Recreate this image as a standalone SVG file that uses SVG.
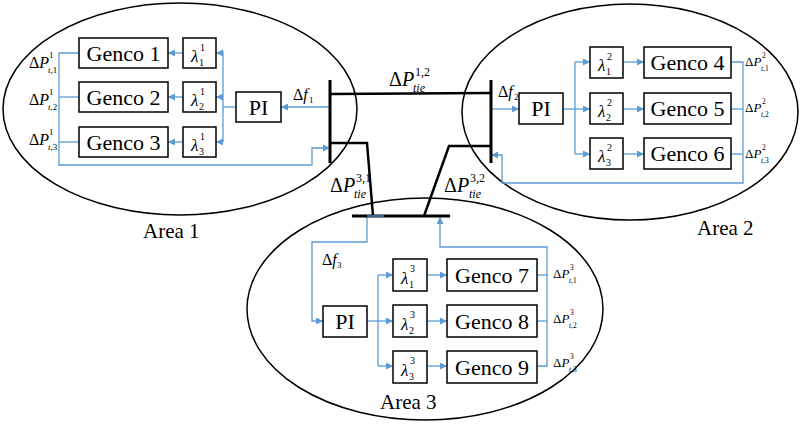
<svg xmlns="http://www.w3.org/2000/svg" width="800" height="426" viewBox="0 0 800 426" font-family="'Liberation Serif','Times New Roman',serif">
<defs>
<style>
text{font-family:"Liberation Serif","Times New Roman",serif;fill:#000}
.ell{fill:none;stroke:#000;stroke-width:1.5}
.box{fill:#fff;stroke:#000;stroke-width:1.5}
.w{fill:none;stroke:#5b9bd5;stroke-width:1.3}
.bus{fill:none;stroke:#000;stroke-width:3}
.tie{fill:none;stroke:#000;stroke-width:2.5}
.g{font-size:22px;text-anchor:middle}
.pi{font-size:22px;text-anchor:middle}
.lam{font-size:17px}
.ls{font-size:10px;font-style:normal}
.m1{font-size:16px}
.s1{font-size:9px}
.m2{font-size:13px}
.s2{font-size:7.5px}
.mt{font-size:20px}
.st{font-size:12px}
.it{font-style:italic}
.area{font-size:21px}
</style>
<marker id="ar" markerWidth="8" markerHeight="8" refX="7" refY="3.5" orient="auto" markerUnits="userSpaceOnUse">
<path d="M0,0 L7,3.5 L0,7 Z" fill="#5b9bd5"/>
</marker>
</defs>
<rect width="800" height="426" fill="#fff"/>

<g id="ellipses">
<ellipse class="ell" cx="180" cy="109" rx="177" ry="106"/>
<ellipse class="ell" cx="630" cy="112" rx="168" ry="108"/>
<ellipse class="ell" cx="425" cy="309" rx="178" ry="111"/>
</g>

<g id="connectors">
<polyline class="w" points="236,107 223,107"/>
<polyline class="w" points="223,51 223,142"/>
<line class="w" x1="223" y1="53" x2="216" y2="53" marker-end="url(#ar)"/>
<line class="w" x1="223" y1="97" x2="216" y2="97" marker-end="url(#ar)"/>
<line class="w" x1="223" y1="142" x2="216" y2="142" marker-end="url(#ar)"/>
<line class="w" x1="183" y1="53" x2="168" y2="53" marker-end="url(#ar)"/>
<line class="w" x1="183" y1="97" x2="168" y2="97" marker-end="url(#ar)"/>
<line class="w" x1="183" y1="142" x2="168" y2="142" marker-end="url(#ar)"/>
<polyline class="w" points="79,53 59,53 59,165 312,165 312,148 330,148" marker-end="url(#ar)"/>
<line class="w" x1="79" y1="97" x2="59" y2="97"/>
<line class="w" x1="79" y1="142" x2="59" y2="142"/>
<line class="w" x1="330" y1="107" x2="281" y2="107" marker-end="url(#ar)"/>
<line class="w" x1="491" y1="109" x2="519" y2="109" marker-end="url(#ar)"/>
<line class="w" x1="563" y1="109" x2="575" y2="109"/>
<line class="w" x1="575" y1="62" x2="575" y2="154"/>
<line class="w" x1="575" y1="62" x2="590" y2="62" marker-end="url(#ar)"/>
<line class="w" x1="575" y1="109" x2="590" y2="109" marker-end="url(#ar)"/>
<line class="w" x1="575" y1="154" x2="590" y2="154" marker-end="url(#ar)"/>
<line class="w" x1="623" y1="62" x2="644" y2="62" marker-end="url(#ar)"/>
<line class="w" x1="623" y1="109" x2="644" y2="109" marker-end="url(#ar)"/>
<line class="w" x1="623" y1="154" x2="644" y2="154" marker-end="url(#ar)"/>
<polyline class="w" points="731,62 743,62 743,183 502,183 502,155 491,155" marker-end="url(#ar)"/>
<line class="w" x1="731" y1="109" x2="743" y2="109"/>
<line class="w" x1="731" y1="154" x2="743" y2="154"/>
<polyline class="w" points="367,216 367,242 312,242 312,321 323,321" marker-end="url(#ar)"/>
<line class="w" x1="367" y1="321" x2="378" y2="321"/>
<line class="w" x1="378" y1="275" x2="378" y2="366"/>
<line class="w" x1="378" y1="275" x2="393" y2="275" marker-end="url(#ar)"/>
<line class="w" x1="378" y1="321" x2="393" y2="321" marker-end="url(#ar)"/>
<line class="w" x1="378" y1="366" x2="393" y2="366" marker-end="url(#ar)"/>
<line class="w" x1="427" y1="275" x2="447" y2="275" marker-end="url(#ar)"/>
<line class="w" x1="427" y1="321" x2="447" y2="321" marker-end="url(#ar)"/>
<line class="w" x1="427" y1="366" x2="447" y2="366" marker-end="url(#ar)"/>
<polyline class="w" points="537,366 547,366 547,247 440,247 440,217" marker-end="url(#ar)"/>
<line class="w" x1="537" y1="275" x2="547" y2="275"/>
<line class="w" x1="537" y1="321" x2="547" y2="321"/>
<line class="tie" x1="330" y1="94" x2="491" y2="93"/>
<polyline class="tie" points="330,143 367,143 373,216"/>
<polyline class="tie" points="491,146 449,146 424,216"/>
</g>

<g id="bus1"><line class="bus" x1="330" y1="80" x2="330" y2="163"/></g>
<g id="bus2"><line class="bus" x1="491" y1="80" x2="491" y2="163"/></g>
<g id="bus3"><line class="bus" x1="352" y1="216" x2="450" y2="216" stroke-width="2.5"/><line class="w" x1="367" y1="216" x2="384" y2="216"/></g>

<g id="genco1"><rect class="box" x="79" y="38" width="89" height="30"/><text class="g" x="123.5" y="61">Genco 1</text></g>
<g id="genco2"><rect class="box" x="79" y="82" width="89" height="30"/><text class="g" x="123.5" y="105">Genco 2</text></g>
<g id="genco3"><rect class="box" x="79" y="127" width="89" height="30"/><text class="g" x="123.5" y="150">Genco 3</text></g>
<g id="lambda11"><rect class="box" x="183" y="38" width="33" height="30"/><text class="lam"><tspan class="it" x="191" y="62">λ</tspan><tspan class="ls" x="200" y="51">1</tspan><tspan class="ls" x="199" y="66">1</tspan></text></g>
<g id="lambda21"><rect class="box" x="183" y="82" width="33" height="30"/><text class="lam"><tspan class="it" x="191" y="106">λ</tspan><tspan class="ls" x="200" y="95">1</tspan><tspan class="ls" x="199" y="110">2</tspan></text></g>
<g id="lambda31"><rect class="box" x="183" y="127" width="33" height="30"/><text class="lam"><tspan class="it" x="191" y="151">λ</tspan><tspan class="ls" x="200" y="140">1</tspan><tspan class="ls" x="199" y="155">3</tspan></text></g>
<g id="pi1"><rect class="box" x="236" y="92" width="45" height="30"/><text class="pi" x="258.5" y="115">PI</text></g>

<g id="genco4"><rect class="box" x="644" y="47" width="87" height="31"/><text class="g" x="687.5" y="70">Genco 4</text></g>
<g id="genco5"><rect class="box" x="644" y="93" width="87" height="31"/><text class="g" x="687.5" y="116">Genco 5</text></g>
<g id="genco6"><rect class="box" x="644" y="138" width="87" height="31"/><text class="g" x="687.5" y="161">Genco 6</text></g>
<g id="lambda12"><rect class="box" x="590" y="47" width="33" height="31"/><text class="lam"><tspan class="it" x="598" y="71">λ</tspan><tspan class="ls" x="607" y="60">2</tspan><tspan class="ls" x="606" y="75">1</tspan></text></g>
<g id="lambda22"><rect class="box" x="590" y="93" width="33" height="31"/><text class="lam"><tspan class="it" x="598" y="117">λ</tspan><tspan class="ls" x="607" y="106">2</tspan><tspan class="ls" x="606" y="121">2</tspan></text></g>
<g id="lambda32"><rect class="box" x="590" y="138" width="33" height="31"/><text class="lam"><tspan class="it" x="598" y="162">λ</tspan><tspan class="ls" x="607" y="151">2</tspan><tspan class="ls" x="606" y="166">3</tspan></text></g>
<g id="pi2"><rect class="box" x="519" y="93" width="44" height="31"/><text class="pi" x="541" y="116">PI</text></g>

<g id="genco7"><rect class="box" x="447" y="259" width="90" height="32"/><text class="g" x="492" y="283">Genco 7</text></g>
<g id="genco8"><rect class="box" x="447" y="305" width="90" height="32"/><text class="g" x="492" y="329">Genco 8</text></g>
<g id="genco9"><rect class="box" x="447" y="351" width="90" height="32"/><text class="g" x="492" y="375">Genco 9</text></g>
<g id="lambda13"><rect class="box" x="393" y="259" width="34" height="32"/><text class="lam"><tspan class="it" x="401" y="284">λ</tspan><tspan class="ls" x="410" y="272">3</tspan><tspan class="ls" x="409" y="288">1</tspan></text></g>
<g id="lambda23"><rect class="box" x="393" y="305" width="34" height="32"/><text class="lam"><tspan class="it" x="401" y="330">λ</tspan><tspan class="ls" x="410" y="318">3</tspan><tspan class="ls" x="409" y="334">2</tspan></text></g>
<g id="lambda33"><rect class="box" x="393" y="351" width="34" height="32"/><text class="lam"><tspan class="it" x="401" y="376">λ</tspan><tspan class="ls" x="410" y="364">3</tspan><tspan class="ls" x="409" y="380">3</tspan></text></g>
<g id="pi3"><rect class="box" x="323" y="306" width="44" height="31"/><text class="pi" x="345" y="329">PI</text></g>

<g id="labels">
<text class="m1"><tspan x="29" y="68">Δ</tspan><tspan class="it">P</tspan><tspan class="s1" x="49" y="58">1</tspan><tspan class="s1 it" x="48" y="73">t</tspan><tspan class="s1">,1</tspan></text>
<text class="m1"><tspan x="29" y="105">Δ</tspan><tspan class="it">P</tspan><tspan class="s1" x="49" y="95">1</tspan><tspan class="s1 it" x="48" y="110">t</tspan><tspan class="s1">,2</tspan></text>
<text class="m1"><tspan x="29" y="145">Δ</tspan><tspan class="it">P</tspan><tspan class="s1" x="49" y="135">1</tspan><tspan class="s1 it" x="48" y="150">t</tspan><tspan class="s1">,3</tspan></text>
<text class="m2"><tspan x="745" y="66">Δ</tspan><tspan class="it">P</tspan><tspan class="s2" x="762" y="58">2</tspan><tspan class="s2 it" x="761" y="71">t</tspan><tspan class="s2">,1</tspan></text>
<text class="m2"><tspan x="745" y="112">Δ</tspan><tspan class="it">P</tspan><tspan class="s2" x="762" y="104">2</tspan><tspan class="s2 it" x="761" y="117">t</tspan><tspan class="s2">,2</tspan></text>
<text class="m2"><tspan x="745" y="158">Δ</tspan><tspan class="it">P</tspan><tspan class="s2" x="762" y="150">2</tspan><tspan class="s2 it" x="761" y="163">t</tspan><tspan class="s2">,3</tspan></text>
<text class="m2"><tspan x="553" y="278">Δ</tspan><tspan class="it">P</tspan><tspan class="s2" x="570" y="270">3</tspan><tspan class="s2 it" x="569" y="283">t</tspan><tspan class="s2">,1</tspan></text>
<text class="m2"><tspan x="553" y="323">Δ</tspan><tspan class="it">P</tspan><tspan class="s2" x="570" y="315">3</tspan><tspan class="s2 it" x="569" y="328">t</tspan><tspan class="s2">,2</tspan></text>
<text class="m2"><tspan x="553" y="367">Δ</tspan><tspan class="it">P</tspan><tspan class="s2" x="570" y="359">3</tspan><tspan class="s2 it" x="569" y="372">t</tspan><tspan class="s2">,3</tspan></text>
<text class="m1"><tspan x="293" y="100">Δ</tspan><tspan class="it">f</tspan><tspan class="s1" x="309" y="103">1</tspan></text>
<text class="m1"><tspan x="498" y="97">Δ</tspan><tspan class="it">f</tspan><tspan class="s1" x="514" y="100">2</tspan></text>
<text class="m1"><tspan x="322" y="265">Δ</tspan><tspan class="it">f</tspan><tspan class="s1" x="337" y="268">3</tspan></text>
<text class="mt"><tspan x="389" y="86">Δ</tspan><tspan class="it">P</tspan><tspan class="st" x="415" y="76">1,2</tspan><tspan class="st it" x="413" y="92">tie</tspan></text>
<text class="mt"><tspan x="330" y="192">Δ</tspan><tspan class="it">P</tspan><tspan class="st" x="356" y="182">3,1</tspan><tspan class="st it" x="354" y="198">tie</tspan></text>
<text class="mt"><tspan x="444" y="192">Δ</tspan><tspan class="it">P</tspan><tspan class="st" x="470" y="182">3,2</tspan><tspan class="st it" x="469" y="198">tie</tspan></text>
<text class="area" x="143" y="238">Area 1</text>
<text class="area" x="697" y="235">Area 2</text>
<text class="area" x="380" y="409">Area 3</text>
</g>
</svg>
